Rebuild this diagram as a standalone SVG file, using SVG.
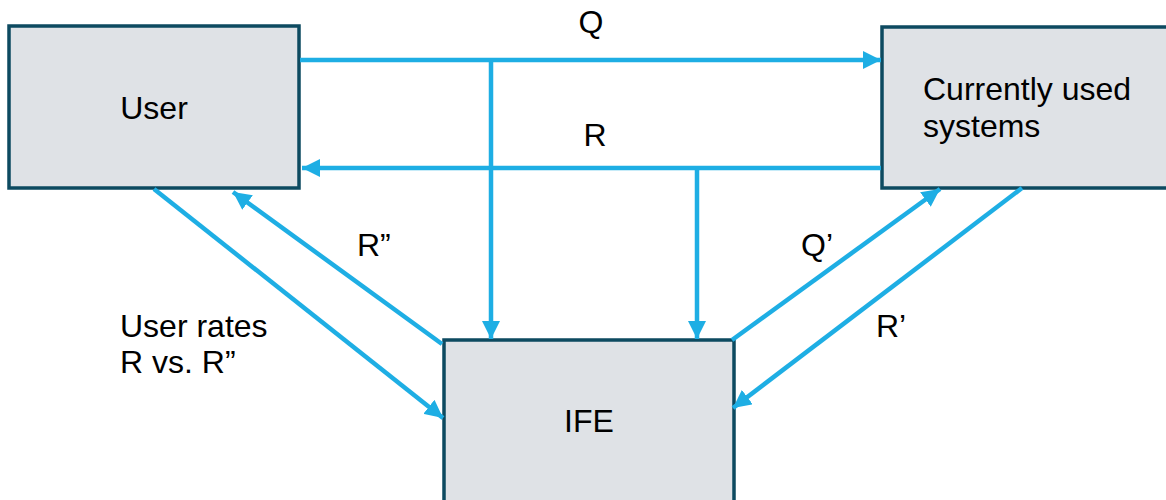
<svg xmlns="http://www.w3.org/2000/svg" width="1166" height="500" viewBox="0 0 1166 500">
<style>
.box{fill:#dfe2e6;stroke:#0d4a60;stroke-width:3.5}
.t{font-family:"Liberation Sans",Arial,sans-serif;font-size:32px;fill:#000}
.c{stroke:#1eaee4;stroke-width:4.5;fill:none}
</style>
<defs>
<marker id="ah" markerUnits="userSpaceOnUse" markerWidth="20" markerHeight="18" viewBox="0 0 20 18" refX="18" refY="9" orient="auto">
<path d="M0,0 L18,9 L0,18 Z" fill="#1eaee4"/>
</marker>
</defs>
<rect width="1166" height="500" fill="#fff"/>
<g id="user">
<rect class="box" x="9" y="26" width="290" height="162"/>
<text class="t" x="154" y="119" text-anchor="middle">User</text>
</g>
<g id="systems">
<rect class="box" x="882" y="27" width="290" height="161"/>
<text class="t" x="923" y="100">Currently used</text>
<text class="t" x="923" y="137">systems</text>
</g>
<g id="ife">
<rect class="box" x="444" y="340" width="290" height="175"/>
<text class="t" x="589" y="432" text-anchor="middle">IFE</text>
</g>
<g id="connectors">
<path class="c" d="M300,60 H881" marker-end="url(#ah)"/>
<path class="c" d="M881,168 H302" marker-end="url(#ah)"/>
<path class="c" d="M491,60 V339" marker-end="url(#ah)"/>
<path class="c" d="M697,168 V339" marker-end="url(#ah)"/>
<path class="c" d="M154,189 L443,418" marker-end="url(#ah)"/>
<path class="c" d="M442,344 L233,192" marker-end="url(#ah)"/>
<path class="c" d="M732,340 L940,189" marker-end="url(#ah)"/>
<path class="c" d="M1022,188 L733,408" marker-end="url(#ah)"/>
</g>
<g id="labels">
<text class="t" x="591" y="33" text-anchor="middle">Q</text>
<text class="t" x="595" y="146" text-anchor="middle">R</text>
<text class="t" x="357" y="256">R”</text>
<text class="t" x="801" y="256">Q’</text>
<text class="t" x="876" y="337">R’</text>
<text class="t" x="120" y="337">User rates</text>
<text class="t" x="120" y="373">R vs. R”</text>
</g>
</svg>
